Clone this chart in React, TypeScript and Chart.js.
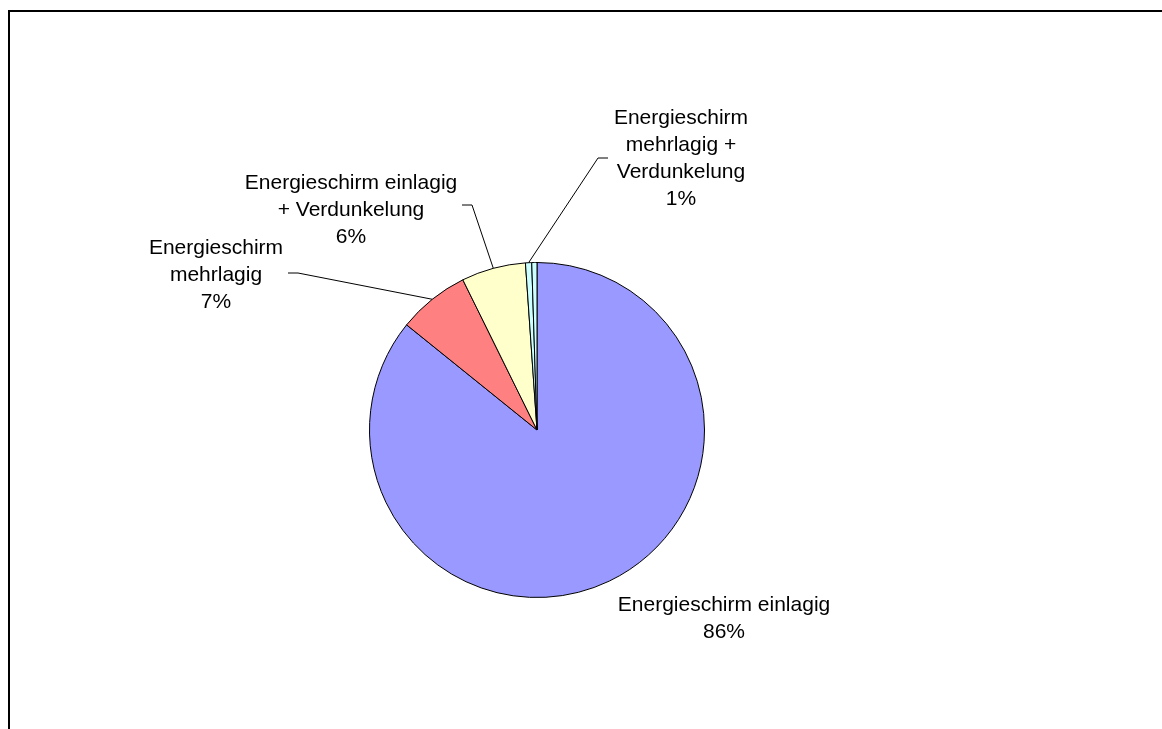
import React, { useEffect, useRef } from "react";
import { Chart, registerables } from "chart.js";

Chart.register(...registerables);

const categories = [
  "Energieschirm einlagig",
  "Energieschirm mehrlagig",
  "Energieschirm einlagig + Verdunkelung",
  "Energieschirm mehrlagig + Verdunkelung",
  "Sonstige",
];
const values = [85.8, 6.9, 6.2, 0.6, 0.5];
const percentLabels = ["86%", "7%", "6%", "1%", ""];
const colors = ["#9999FF", "#FF8080", "#FFFFCC", "#CCFFFF", "#CCFFFF"];

// label layout (positions only)
type LabelLayout = {
  show: boolean;
  cx: number;
  y0: number;
  maxW: number;
  leader: [number, number][] | null;
};
const LABEL_LAYOUT: LabelLayout[] = [
  { show: true, cx: 724, y0: 605, maxW: 240, leader: null },
  { show: true, cx: 216, y0: 248, maxW: 180, leader: [[288, 273], [298, 273]] },
  { show: true, cx: 351, y0: 183, maxW: 222, leader: [[462, 205], [472, 205]] },
  { show: true, cx: 681, y0: 118, maxW: 160, leader: [[608, 158], [598, 158]] },
  { show: false, cx: 0, y0: 0, maxW: 0, leader: null },
];
const FONT = "21px 'Liberation Sans', Arial, sans-serif";
const LINE_H = 27;

function wrap(ctx: CanvasRenderingContext2D, text: string, maxW: number): string[] {
  const words = text.split(" ");
  const lines: string[] = [];
  let cur = "";
  for (const w of words) {
    const t = cur ? cur + " " + w : w;
    if (ctx.measureText(t).width > maxW && cur) {
      lines.push(cur);
      cur = w;
    } else {
      cur = t;
    }
  }
  if (cur) lines.push(cur);
  return lines;
}

const framePlugin = {
  id: "frame",
  beforeDraw(chart: any) {
    const ctx = chart.ctx;
    ctx.save();
    ctx.fillStyle = "#ffffff";
    ctx.fillRect(0, 0, chart.width, chart.height);
    ctx.fillStyle = "#000000";
    ctx.fillRect(8, 10, chart.width - 8, 2);
    ctx.fillRect(8, 10, 2, chart.height - 10);
    ctx.restore();
  },
};

const labelPlugin = {
  id: "pieLabels",
  afterDraw(chart: any) {
    const ctx: CanvasRenderingContext2D = chart.ctx;
    const meta = chart.getDatasetMeta(0);
    ctx.save();
    ctx.font = FONT;
    ctx.fillStyle = "#000";
    ctx.textAlign = "center";
    ctx.textBaseline = "middle";
    meta.data.forEach((arc: any, i: number) => {
      const lay = LABEL_LAYOUT[i];
      if (!lay || !lay.show) return;
      const { x, y, startAngle, endAngle, outerRadius } = arc.getProps(
        ["x", "y", "startAngle", "endAngle", "outerRadius"],
        true
      );
      const mid = (startAngle + endAngle) / 2;
      const ex = x + Math.cos(mid) * outerRadius;
      const ey = y + Math.sin(mid) * outerRadius;
      if (lay.leader) {
        ctx.strokeStyle = "#000";
        ctx.lineWidth = 1;
        ctx.beginPath();
        ctx.moveTo(lay.leader[0][0], lay.leader[0][1]);
        for (let k = 1; k < lay.leader.length; k++) ctx.lineTo(lay.leader[k][0], lay.leader[k][1]);
        ctx.lineTo(ex, ey);
        ctx.stroke();
      }
      const lines = wrap(ctx, chart.data.labels[i], lay.maxW);
      lines.push(percentLabels[i]);
      lines.forEach((ln, k) => {
        ctx.fillText(ln, lay.cx, lay.y0 + k * LINE_H);
      });
    });
    ctx.restore();
  },
};

export default function App() {
  const ref = useRef<HTMLCanvasElement | null>(null);
  useEffect(() => {
    if (!ref.current) return;
    const chart = new Chart(ref.current, {
      type: "pie",
      data: {
        labels: categories,
        datasets: [
          {
            data: values,
            backgroundColor: colors,
            borderColor: "#000000",
            borderWidth: 1,
          },
        ],
      },
      options: {
        responsive: false,
        animation: false,
        layout: { padding: { left: 369, right: 457, top: 262, bottom: 131 } },
        plugins: {
          legend: { display: false },
          tooltip: { enabled: false },
        },
      },
      plugins: [framePlugin, labelPlugin],
    });
    return () => chart.destroy();
  }, []);
  return (
    <div style={{ position: "absolute", left: 0, top: 0, width: 1162, height: 729 }}>
      <canvas ref={ref} width={1162} height={729} />
    </div>
  );
}
